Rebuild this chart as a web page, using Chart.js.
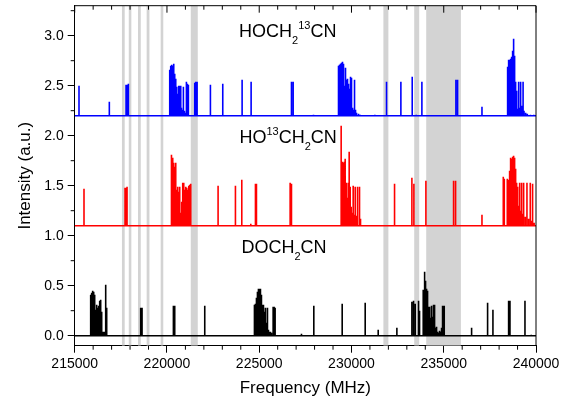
<!DOCTYPE html>
<html><head><meta charset="utf-8">
<script src="https://cdn.jsdelivr.net/npm/chart.js@4.4.1/dist/chart.umd.min.js"></script>
<style>html,body{margin:0;padding:0;background:#fff}</style>
</head><body>
<canvas id="c" width="571" height="402"></canvas>
<script>
// ---------- data ----------
const xMin = 215000, xMax = 240000, yMin = -0.1, yMax = 3.3;
const xTickValues = [215000, 220000, 225000, 230000, 235000, 240000];
const yTickValues = [0, 0.5, 1.0, 1.5, 2.0, 2.5, 3.0];

const bandStart = [217560, 217930, 218430, 218900, 219660, 221290, 231730, 233400, 234050];
const bandEnd   = [217710, 218070, 218580, 219050, 219800, 221670, 232000, 233670, 235930];

const blueBase = 2.2, redBase = 1.1, blackBase = 0.0;

const blueFreq = [215233,216877,217782,217836,217909,220150,220204,220259,220313,220367,220421,220476,220530,220584,220638,220692,220747,220783,220837,220891,220945,221000,221054,221108,221162,221506,221560,221633,222355,223024,224073,224561,226748,226839,227941,229297,229351,229405,229459,229514,229568,229622,229676,229731,229785,229839,229893,229948,230002,230056,230110,230165,230219,230273,230382,230472,231267,231900,232677,233292,233509,233816,235660,235750,237072,238462,238516,238570,238624,238679,238733,238787,238841,238896,238950,239005,239059,239113,239167,239221,239300,239350,239440,239530,239700,239880];
const blueTop  = [2.50,2.34,2.51,2.51,2.52,2.66,2.70,2.71,2.70,2.72,2.62,2.57,2.49,2.42,2.50,2.50,2.50,2.28,2.26,2.49,2.25,2.23,2.54,2.52,2.51,2.53,2.54,2.54,2.51,2.52,2.56,2.54,2.54,2.54,2.21,2.70,2.71,2.72,2.73,2.74,2.72,2.50,2.68,2.56,2.57,2.52,2.47,2.59,2.58,2.28,2.26,2.56,2.26,2.23,2.22,2.21,2.21,2.54,2.54,2.59,2.21,2.54,2.56,2.56,2.29,2.69,2.76,2.76,2.77,2.79,2.85,2.97,2.80,2.54,2.45,2.27,2.54,2.28,2.54,2.30,2.54,2.25,2.23,2.22,2.21,2.21];

const redFreq = [215504,217728,217800,217837,220222,220259,220313,220367,220421,220476,220530,220584,220638,220692,220747,220801,220855,220909,220964,221018,221072,221126,221181,221235,221289,222771,223711,224055,224543,224796,224850,226676,226748,229441,229496,229550,229604,229658,229713,229767,229821,229875,229930,229984,230038,230092,230147,230201,230273,230327,230436,230490,232334,233274,233382,234033,235533,235642,237072,238227,238281,238444,238498,238570,238624,238679,238733,238787,238841,238896,238950,239004,239058,239113,239167,239221,239275,239330,239420,239510,239600,239690,239750,239815,239900];
const redTop  = [1.47,1.48,1.48,1.49,1.62,1.81,1.78,1.73,1.69,1.73,1.46,1.49,1.44,1.49,1.23,1.34,1.53,1.53,1.46,1.49,1.48,1.46,1.50,1.51,1.52,1.50,1.50,1.56,1.12,1.52,1.52,1.53,1.52,2.10,1.74,1.73,1.74,1.77,1.53,1.38,1.53,1.84,1.49,1.29,1.23,1.50,1.21,1.49,1.20,1.49,1.49,1.17,1.52,1.58,1.52,1.55,1.55,1.55,1.21,1.59,1.57,1.57,1.56,1.65,1.78,1.77,1.79,1.80,1.78,1.67,1.53,1.49,1.30,1.53,1.25,1.53,1.22,1.53,1.19,1.53,1.17,1.53,1.15,1.52,1.13];

const blackFreq = [215866,215920,215974,216029,216083,216137,216191,216246,216300,216354,216408,216463,216517,216571,216625,216680,216734,218577,218650,220349,220421,222048,224741,224796,224850,224904,224958,225013,225067,225121,225175,225230,225284,225338,225392,225447,225501,225555,225609,225664,225754,225808,225862,227290,227959,229496,230743,231448,232460,233274,233364,233454,233635,233689,233888,233942,233979,234015,234069,234123,234177,234232,234286,234340,234394,234449,234503,234557,234611,234666,234720,234774,234828,234883,234937,234991,235027,236510,237377,237666,238516,238589,239402,239745];
const blackTop  = [0.41,0.43,0.45,0.44,0.41,0.26,0.31,0.28,0.30,0.35,0.36,0.24,0.04,0.04,0.04,0.51,0.28,0.28,0.28,0.30,0.30,0.30,0.31,0.32,0.38,0.44,0.47,0.47,0.47,0.41,0.31,0.31,0.24,0.28,0.13,0.28,0.06,0.04,0.04,0.03,0.29,0.29,0.28,0.02,0.30,0.32,0.33,0.06,0.08,0.34,0.35,0.32,0.35,0.25,0.46,0.51,0.64,0.55,0.47,0.45,0.29,0.29,0.18,0.30,0.19,0.31,0.31,0.08,0.09,0.04,0.03,0.05,0.04,0.08,0.30,0.30,0.30,0.08,0.33,0.26,0.35,0.35,0.35,0.01];

const seriesLabels = [
  [{t:'HOCH',k:'n'},{t:'2',k:'sub'},{t:'13',k:'sup'},{t:'CN',k:'n'}],
  [{t:'HO',k:'n'},{t:'13',k:'sup'},{t:'CH',k:'n'},{t:'2',k:'sub'},{t:'CN',k:'n'}],
  [{t:'DOCH',k:'n'},{t:'2',k:'sub'},{t:'CN',k:'n'}]
];
const labelAnchorX = [223910, 223930, 224040];
const labelAnchorY = [2.99, 1.93, 0.826];

// ---------- drawing ----------
const FONT = '"Liberation Sans", Arial, Helvetica, sans-serif';

function sticks(freq, top, base) {
  const order = freq.map((f, i) => i).sort((a, b) => freq[a] - freq[b]);
  const pts = [{x: xMin, y: base}];
  order.forEach(i => {
    pts.push({x: freq[i], y: base}, {x: freq[i], y: top[i]}, {x: freq[i], y: base});
  });
  pts.push({x: xMax, y: base});
  return pts;
}

const bandsPlugin = {
  id: 'bands',
  beforeDatasetsDraw(chart) {
    const {ctx, chartArea: a, scales: {x}} = chart;
    ctx.save();
    ctx.beginPath(); ctx.rect(a.left, a.top, a.right - a.left, a.bottom - a.top); ctx.clip();
    ctx.fillStyle = '#d3d3d3';
    bandStart.forEach((s, i) => {
      const x0 = x.getPixelForValue(s), x1 = x.getPixelForValue(bandEnd[i]);
      ctx.fillRect(x0, a.top, x1 - x0, a.bottom - a.top);
    });
    ctx.restore();
  }
};

const framePlugin = {
  id: 'frame',
  afterDraw(chart) {
    const {ctx, chartArea: a, scales: {x, y}} = chart;
    ctx.save();
    ctx.strokeStyle = '#000'; ctx.lineWidth = 1;
    ctx.beginPath();
    ctx.moveTo(a.left, a.top); ctx.lineTo(a.right, a.top); ctx.lineTo(a.right, a.bottom);
    for (let v = xMin; v <= xMax; v += 1000) {
      const px = x.getPixelForValue(v);
      const major = v % 5000 === 0;
      ctx.moveTo(px, a.top); ctx.lineTo(px, a.top + (major ? 7 : 4));
      if (!major) { ctx.moveTo(px, a.bottom); ctx.lineTo(px, a.bottom + 4); }
    }
    for (let k = 1; k <= 13; k += 2) {
      const py = y.getPixelForValue(k * 0.25);
      ctx.moveTo(a.left, py); ctx.lineTo(a.left - 4, py);
    }
    ctx.stroke();
    ctx.restore();
  }
};

const labelPlugin = {
  id: 'seriesLabels',
  afterDatasetsDraw(chart) {
    const {ctx, scales: {x, y}} = chart;
    const size = 18;
    ctx.save();
    ctx.fillStyle = '#000';
    ctx.textBaseline = 'alphabetic';
    ctx.textAlign = 'left';
    seriesLabels.forEach((parts, i) => {
      let cx = x.getPixelForValue(labelAnchorX[i]);
      const by = y.getPixelForValue(labelAnchorY[i]);
      parts.forEach(p => {
        const fs = p.k === 'n' ? size : 11;
        ctx.font = fs + 'px ' + FONT;
        const dy = p.k === 'sub' ? 7 : (p.k === 'sup' ? -7.5 : 0);
        ctx.fillText(p.t, cx, by + dy);
        cx += ctx.measureText(p.t).width;
      });
    });
    ctx.restore();
  }
};

new Chart(document.getElementById('c'), {
  type: 'line',
  data: {
    datasets: [
      {label: 'HOCH2 13CN', data: sticks(blueFreq, blueTop, blueBase), borderColor: '#0000ff'},
      {label: 'HO13CH2CN', data: sticks(redFreq, redTop, redBase), borderColor: '#ff0000'},
      {label: 'DOCH2CN', data: sticks(blackFreq, blackTop, blackBase), borderColor: '#000000'}
    ]
  },
  options: {
    responsive: false,
    animation: false,
    parsing: false,
    normalized: true,
    devicePixelRatio: 1,
    elements: {
      line: {borderWidth: 1.6, tension: 0, fill: false},
      point: {radius: 0, hoverRadius: 0}
    },
    layout: {padding: {left: 0, top: 5.7, right: 35, bottom: 0}},
    plugins: {legend: {display: false}, tooltip: {enabled: false}},
    events: [],
    scales: {
      x: {
        type: 'linear', position: 'bottom', min: xMin, max: xMax,
        afterBuildTicks: s => { s.ticks = xTickValues.map(v => ({value: v})); },
        afterFit: s => { s.height = 56.3; s.paddingLeft = 0; s.paddingRight = 0; },
        ticks: {callback: v => String(v), font: {family: FONT, size: 14}, color: '#000', padding: 3, maxRotation: 0, autoSkip: false},
        grid: {drawOnChartArea: false, tickLength: 7, tickColor: '#000', tickWidth: 1},
        border: {color: '#000', width: 1},
        title: {display: true, text: 'Frequency (MHz)', font: {family: FONT, size: 17}, color: '#000', padding: {top: 0, bottom: 3.4}}
      },
      y: {
        type: 'linear', position: 'left', min: yMin, max: yMax,
        afterBuildTicks: s => { s.ticks = yTickValues.map(v => ({value: v})); },
        afterFit: s => { s.width = 74.7; s.paddingTop = 0; s.paddingBottom = 0; },
        ticks: {callback: v => Number(v).toFixed(1), font: {family: FONT, size: 14}, color: '#000', padding: 4},
        grid: {drawOnChartArea: false, tickLength: 7, tickColor: '#000', tickWidth: 1},
        border: {color: '#000', width: 1},
        title: {display: true, text: 'Intensity (a.u.)', font: {family: FONT, size: 17}, color: '#000', padding: {top: 15.6, bottom: 0}}
      }
    }
  },
  plugins: [bandsPlugin, framePlugin, labelPlugin]
});
</script>
</body></html>
